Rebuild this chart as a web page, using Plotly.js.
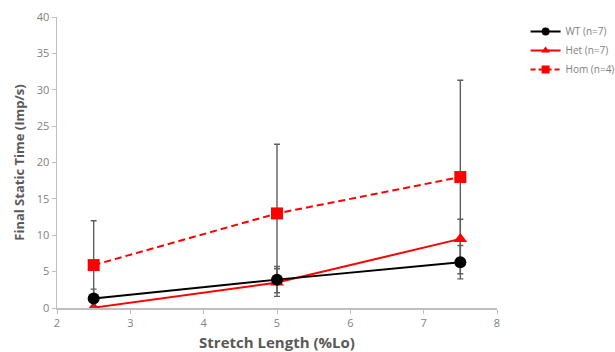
<!DOCTYPE html>
<html><head><meta charset="utf-8">
<script src="https://cdn.plot.ly/plotly-3.0.1.min.js"></script>
<style>html,body{margin:0;padding:0;background:#fff}#chart{width:615px;height:352px}</style>
</head><body><div id="chart"></div>
<script>
const stretch = [2.5, 5, 7.5];
const wtMean = [1.3, 3.9, 6.3];
const wtErr = [1.3, 1.8, 2.3];
const hetMean = [0.05, 3.5, 9.5];
const hetErr = [0, 1.9, 2.7];
const homMean = [5.9, 13.0, 18.0];
const homErr = [6.1, 9.5, 13.3];
const seriesNames = ['WT (n=7)', 'Het (n=7)', 'Hom (n=4)'];

function errSpec(arr){
  return {type:'data', array:arr, visible:true, color:'#5f5f5f', thickness:1.4, width:3};
}
const styles = [
  {line:{color:'#000000', width:2}, symbol:'circle'},
  {line:{color:'#ff0000', width:2}, symbol:'triangle-up'},
  {line:{color:'#ff0000', width:2, dash:'7px,4px'}, symbol:'square'}
];
const means = [wtMean, hetMean, homMean];
const errs = [wtErr, hetErr, homErr];
const traces = [];
[2,1,0].forEach(i => {
  traces.push({x:stretch, y:means[i], name:seriesNames[i], mode:'lines+markers', showlegend:false,
    error_y:errSpec(errs[i]), line:styles[i].line,
    marker:{symbol:styles[i].symbol, size:12, color:styles[i].line.color}});
});
// legend entries (smaller legend symbols, as in the reference)
[0,1,2].forEach(i => {
  const ln = Object.assign({}, styles[i].line);
  if (ln.dash) ln.dash = '5px,3px';
  traces.push({x:[null], y:[null], name:seriesNames[i], mode:'lines+markers', showlegend:true,
    line:ln, marker:{symbol:styles[i].symbol, size:8, color:ln.color}});
});
const layout = {
  width:615, height:352,
  margin:{l:57, r:118, t:17, b:44, autoexpand:false},
  paper_bgcolor:'#fff', plot_bgcolor:'#fff',
  font:{family:'Open Sans, sans-serif', color:'#7f7f7f', size:11},
  showlegend:true,
  legend:{x:1.065, y:1.0, xanchor:'left', yanchor:'top',
    font:{size:10, color:'#7f7f7f'}, tracegroupgap:0, itemwidth:30},
  xaxis:{range:[2,8], dtick:1, tick0:2, showgrid:false, zeroline:false,
    showline:true, linecolor:'#bfbfbf', linewidth:1.5, ticks:'outside', ticklen:4, tickcolor:'#bfbfbf',
    tickfont:{size:11, color:'#7f7f7f'},
    title:{text:'Stretch Length (%Lo)', font:{size:15, color:'#595959', family:'Open Sans, sans-serif', weight:'bold'}, standoff:12}},
  yaxis:{range:[0,40], dtick:5, showgrid:false, zeroline:false,
    showline:true, linecolor:'#bfbfbf', linewidth:1.5, ticks:'outside', ticklen:4, tickcolor:'#bfbfbf',
    tickfont:{size:11, color:'#7f7f7f'},
    title:{text:'Final Static Time (Imp/s)', font:{size:13, color:'#595959', family:'Open Sans, sans-serif', weight:'bold'}, standoff:9}}
};
Plotly.newPlot('chart', traces, layout, {displayModeBar:false, staticPlot:true});
</script></body></html>
